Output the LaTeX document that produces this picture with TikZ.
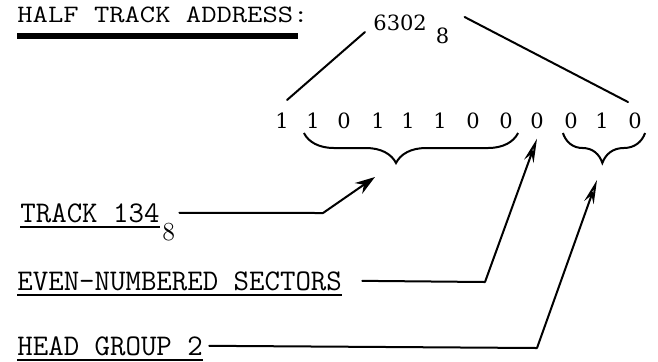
\documentclass[tikz,border=0pt]{standalone}
\usepackage{fontspec}
\newfontfamily\digfont{DejaVu Serif}
\usetikzlibrary{arrows.meta,positioning,calc,decorations.pathreplacing}

\begin{document}
\begin{tikzpicture}[x=0.5pt,y=-0.5pt,>=Stealth]
\tikzstyle{T}=[inner sep=0,anchor=base west,font=\ttfamily\fontsize{15}{17}\selectfont]
\tikzstyle{D}=[inner sep=0,anchor=base,font=\digfont\fontsize{10.5}{13}\selectfont]
\tikzstyle{S}=[inner sep=0,anchor=base west,font=\digfont\fontsize{10.5}{13}\selectfont]
\tikzstyle{W}=[line width=1pt,line join=round,line cap=round]
\tikzstyle{B}=[line width=1pt,decorate,decoration={brace,mirror,amplitude=15pt}]
\tikzstyle{openhead}=[-{Stealth[open,length=12pt,width=5pt]}]
\useasboundingbox (0,0) rectangle (658,361);
% title and octal value
\node[T,font=\ttfamily\fontsize{12.5}{15}\selectfont] (title) at (17,22) {\scalebox{1.19}[1]{HALF TRACK ADDRESS:}};
\draw[line width=2.6pt] ([yshift=-7pt]title.base west) -- ([shift={(-5.5pt,-7pt)}]title.base east);
\node[S] (octal) at (373,30) {6302\hspace{4.5pt}\raisebox{-6.5pt}{8}};
% binary digits
\foreach \x/\d [count=\i] in {282/1,313/1,344/0,378/1,408/1,440/1,473/0,506/0,537/0,571/0,602/1,635/0}
  \node[D] (b\i) at (\x,128) {\d};
\draw[W] ([shift={(-4pt,-1pt)}]octal.base west) -- ([shift={(2.5pt,6pt)}]b1.north);
\draw[W] ([shift={(7.5pt,6.5pt)}]octal.base east) -- ([shift={(-3.5pt,5pt)}]b12.north);
% braces
\draw[B,decoration={aspect=0.43}] ([shift={(-1pt,-2.5pt)}]b2.base west) -- ([shift={(2.5pt,-2.5pt)}]b8.base east);
\draw[B,decoration={aspect=0.48}] ([shift={(-0.5pt,-2.5pt)}]b10.base west) -- ([shift={(1.5pt,-2.5pt)}]b12.base east);
% labels
\node[T] (track) at (20,222) {TRACK 134};
\node[S,font=\fontsize{13}{15}\selectfont] (trk8) at ([shift={(1pt,-9pt)}]track.base east) {8};
\node[T] (sect) at (17,290) {EVEN-NUMBERED SECTORS};
\node[T] (head) at (17,355) {HEAD GROUP 2};
\foreach \n in {track,sect,head}
  \draw[W,line cap=butt] ([yshift=-2.5pt]\n.base west) -- ([yshift=-2.5pt]\n.base east);
% arrows
\coordinate (k1) at (323,213);
\coordinate (t1) at (375,177);
\coordinate (k2) at (485,282);
\coordinate (k3) at (537,348);
\coordinate (t3) at (597,180);
\draw[W,-{Stealth[length=10pt,width=6.5pt]}] ([xshift=2pt]trk8.east |- track.east) -- (k1) -- (t1);
\draw[W,openhead] ([xshift=10pt]sect.east) -- (k2) -- ([yshift=-5pt]b9.south);
\draw[W,openhead] ([xshift=3pt]head.east) -- (k3) -- (t3);
\end{tikzpicture}
\end{document}
